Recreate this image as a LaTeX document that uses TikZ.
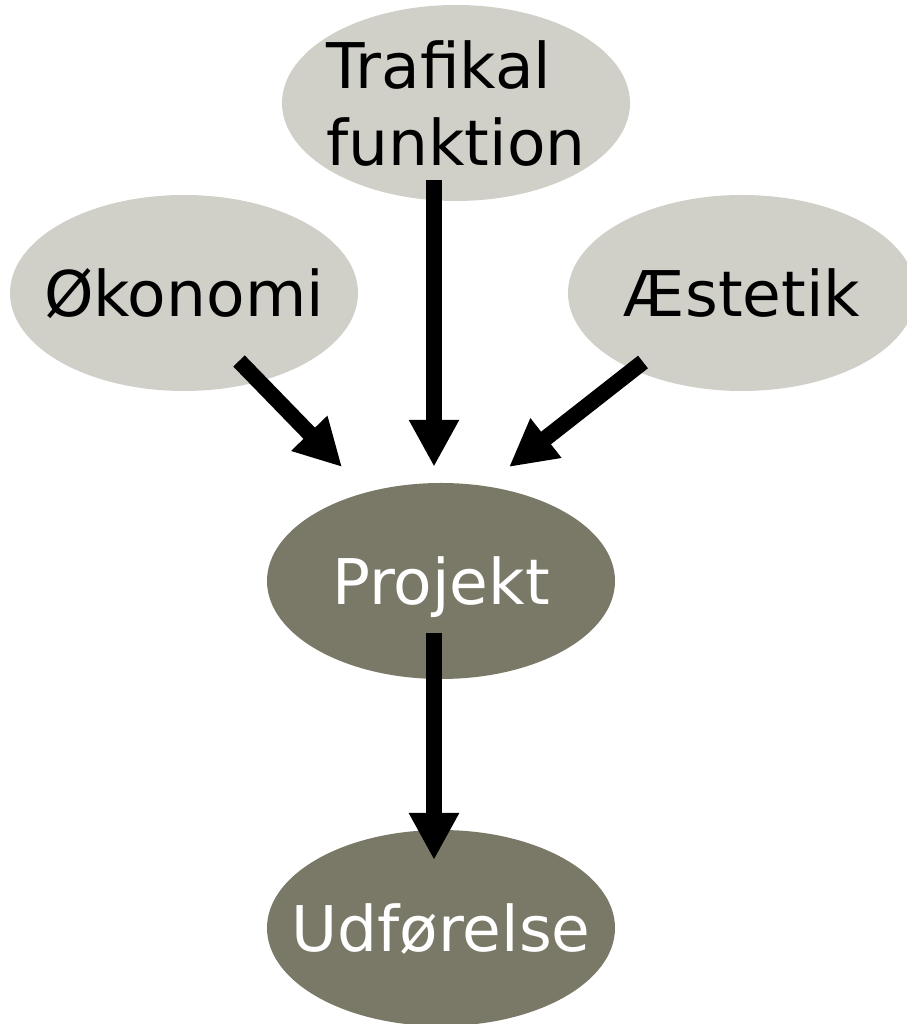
\documentclass[tikz,border=0pt]{standalone}
\usepackage{fontspec}
\setmainfont{DejaVu Sans}
\usetikzlibrary{shapes.geometric,arrows.meta}
\definecolor{lightoval}{RGB}{208,208,200}
\definecolor{darkoval}{RGB}{122,121,103}
\begin{document}
\begin{tikzpicture}[x=1pt,y=1pt,
   oval/.style={ellipse,minimum width=348pt,minimum height=196pt,
     inner xsep=-40pt,inner ysep=0pt,
     font=\fontsize{63}{77}\selectfont,text depth=0pt},
   aspect/.style={oval,fill=lightoval,text=black},
   stage/.style={oval,fill=darkoval,text=white},
   bigarrow/.style={line width=16pt,-{Triangle[length=47pt,width=47pt]}}]
   \useasboundingbox (0,0) rectangle (906,1024);
   \node[aspect,align=left] (traf) at (456,921) {Trafikal\\funktion};
   \node[aspect] (okon) at (184,731) {Økonomi};
   \node[aspect] (aest) at (742,731) {Æstetik};
   \node[stage] (proj) at (441,443) {Projekt};
   \node[stage] (udf) at (441,96) {Udførelse};
   \path[bigarrow]
    ([xshift=-22pt,yshift=21pt]traf.south) edge ([xshift=-7pt,yshift=16pt]proj.north)
    ([xshift=55pt,yshift=-68pt]okon.center) edge ([xshift=-99pt,yshift=114pt]proj.center)
    ([xshift=-99pt,yshift=-69pt]aest.center) edge ([xshift=68pt,yshift=114pt]proj.center)
    ([xshift=-7pt,yshift=-52pt]proj.center) edge ([xshift=-7pt,yshift=68pt]udf.center);
\end{tikzpicture}
\end{document}
